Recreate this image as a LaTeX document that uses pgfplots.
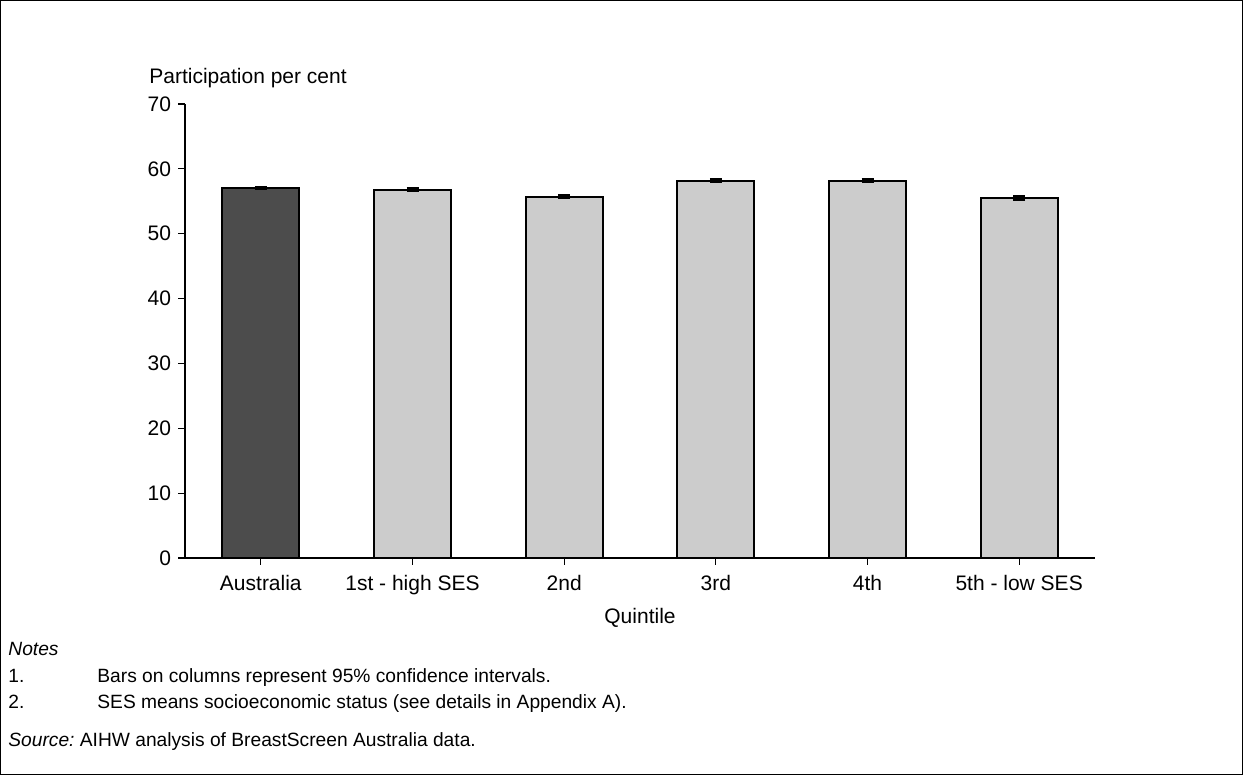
\documentclass[border=0pt]{standalone}
\usepackage{pgfplots}
\pgfplotsset{compat=1.18}
\usepackage{fontspec}
\setmainfont{Liberation Sans}

\begin{document}
\begin{tikzpicture}[x=1pt,y=1pt]
\useasboundingbox (0,0) rectangle (621.5,387.5);
\draw[line width=0.7pt] (0.35,0.35) rectangle (621.15,387.15);

% Participation by socioeconomic quintile, with 95% confidence intervals
\begin{axis}[
  at={(92.5pt,108.5pt)}, anchor=south west,
  scale only axis, width=455pt, height=227pt,
  xmin=-0.5, xmax=5.5, ymin=0, ymax=70,
  axis x line=bottom, axis y line=left,
  axis line style={-, line width=0.6pt},
  xtick={0,1,2,3,4,5},
  xticklabels={Australia,1st - high SES,2nd,3rd,4th,5th - low SES},
  ytick={0,10,...,70},
  tick align=outside, major tick length=3.5pt,
  tick style={line width=0.6pt, black},
  tick label style={font=\fontsize{10.5}{12}\selectfont},
  xticklabel style={yshift=-1.5pt},
  /pgf/number format/assume math mode=true,
  xlabel={Quintile}, xlabel style={font=\fontsize{10.5}{12}\selectfont, yshift=0pt},
  ybar, bar width=38.5pt, bar shift=0pt,
  clip=false,
]
\addplot[draw=black, line width=1pt, fill=black!70,
  error bars/.cd, y dir=both, y explicit,
  error bar style={line width=1.2pt, black}, error mark options={rotate=90, mark size=3pt, line width=1.2pt}]
  coordinates {(0,57.0) +- (0,0.12)};
\addplot[draw=black, line width=1pt, fill=black!20,
  error bars/.cd, y dir=both, y explicit,
  error bar style={line width=1.2pt, black}, error mark options={rotate=90, mark size=3pt, line width=1.2pt}]
  coordinates {
    (1,56.8) +- (0,0.25)
    (2,55.7) +- (0,0.2)
    (3,58.2) +- (0,0.2)
    (4,58.2) +- (0,0.2)
    (5,55.5) +- (0,0.25)
  };
\end{axis}

\node[anchor=base west, inner sep=0pt, font=\fontsize{10.5}{12}\selectfont] at (74.5,345.5) {Participation per cent};

\begin{scope}[every node/.style={anchor=base west, font=\fontsize{9.6}{11}\selectfont, inner sep=0pt}]
\node at (4,59.5) {\itshape Notes};
\node at (4,46) {1.};
\node at (48.5,46) {Bars on columns represent 95\% confidence intervals.};
\node at (4,33) {2.};
\node at (48.5,33) {SES means socioeconomic status (see details in Appendix A).};
\node at (4,14) {\textit{Source:}\ AIHW analysis of BreastScreen Australia data.};
\end{scope}
\end{tikzpicture}
\end{document}
